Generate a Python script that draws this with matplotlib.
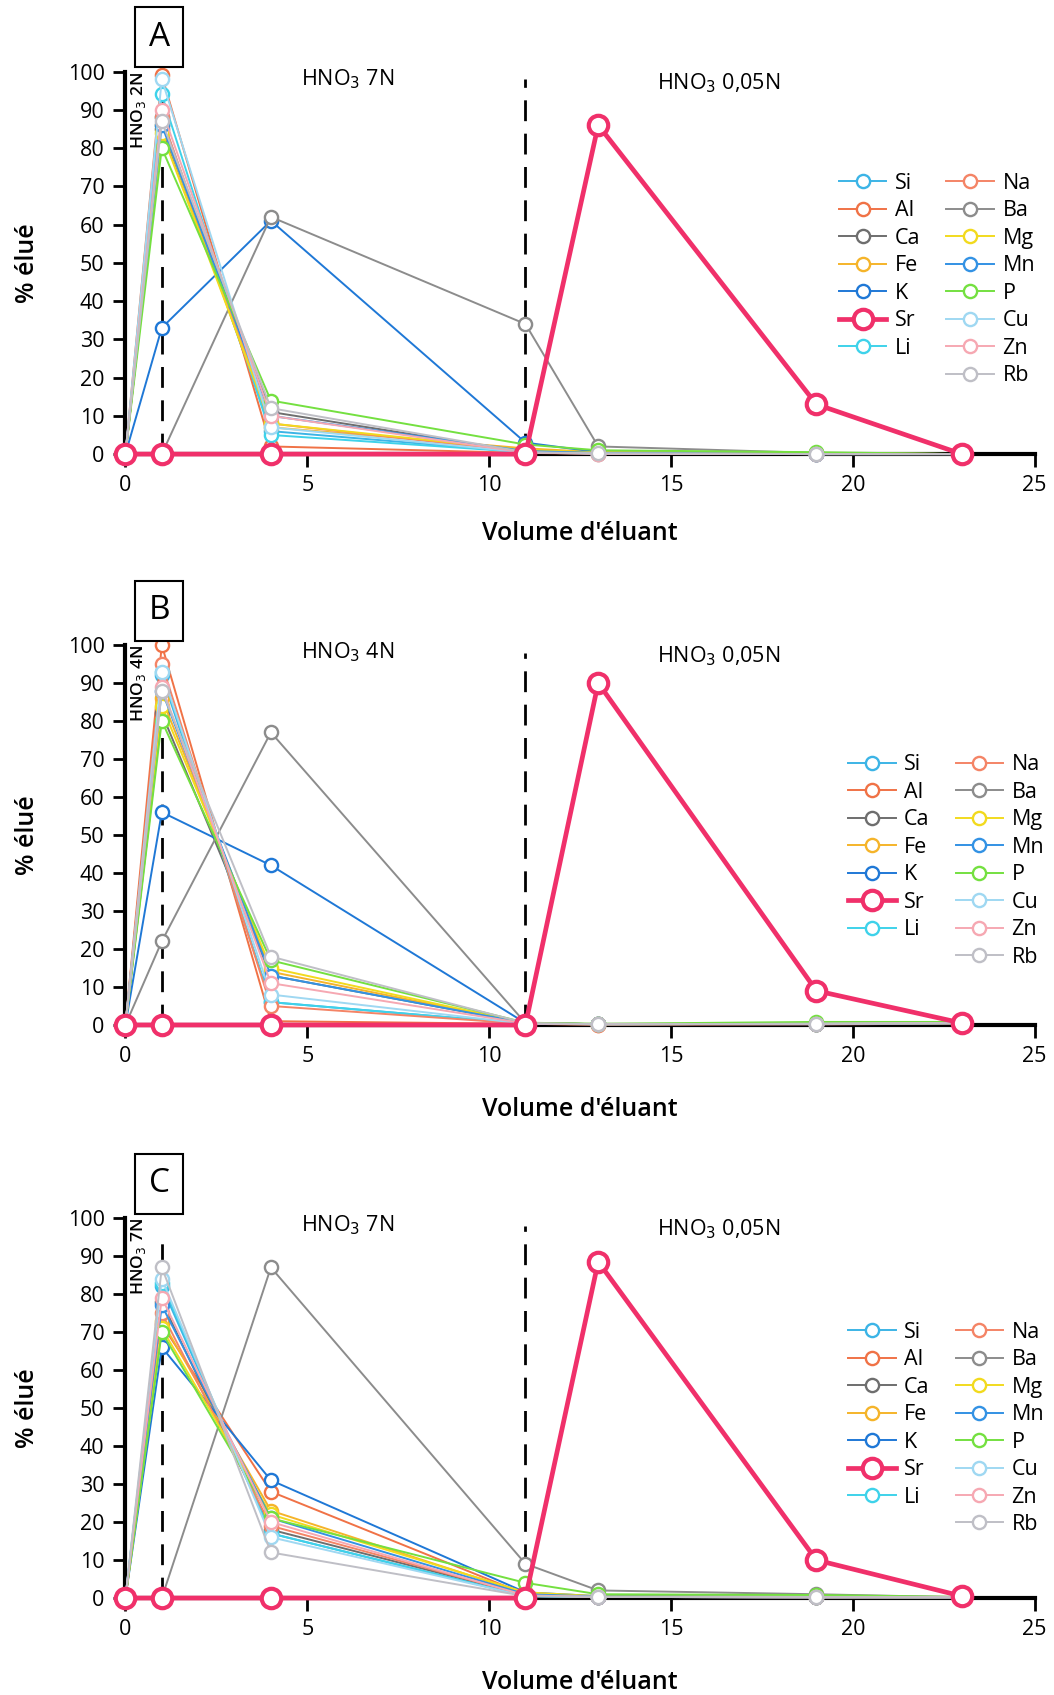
import matplotlib
matplotlib.use('Agg')
import matplotlib.pyplot as plt
from matplotlib.lines import Line2D

plt.rcParams['font.family'] = ['Open Sans', 'DejaVu Sans']

# volumes d'éluant
volume = [0, 1, 4, 11, 13, 19, 23]

elements = ['Si', 'Al', 'Ca', 'Fe', 'K', 'Sr', 'Li',
            'Na', 'Ba', 'Mg', 'Mn', 'P', 'Cu', 'Zn', 'Rb']
colors = {'Si': '#3cb4e6', 'Al': '#f07246', 'Ca': '#6e6e6e', 'Fe': '#f5b42a',
          'K': '#1f78d6', 'Sr': '#f0306a', 'Li': '#3ed2ea', 'Na': '#f48466',
          'Ba': '#8c8c8c', 'Mg': '#f2da1e', 'Mn': '#3392e4', 'P': '#74e040',
          'Cu': '#9fd8f2', 'Zn': '#f6a8b2', 'Rb': '#bfbfc6'}

# % élué, panneau A (HNO3 2N / 7N / 0,05N)
panel_A = {
    'Si': [0, 88, 6, 0.5, 0.2, 0, 0],
    'Al': [0, 99, 2, 0.3, 0.1, 0, 0],
    'Ca': [0, 85, 11, 0.5, 0.2, 0, 0],
    'Fe': [0, 86, 7, 1.5, 0.5, 0.2, 0],
    'K': [0, 33, 61, 3, 0.5, 0.2, 0],
    'Li': [0, 94, 5, 0.5, 0.2, 0, 0],
    'Na': [0, 88, 8, 0.5, 0.2, 0, 0],
    'Ba': [0, 0, 62, 34, 2, 0.3, 0],
    'Mg': [0, 84, 8, 1, 0.5, 0.3, 0],
    'Mn': [0, 86, 10, 0.8, 0.3, 0.1, 0],
    'P': [0, 80, 14, 2.5, 1, 0.5, 0],
    'Cu': [0, 98, 7, 0.4, 0.1, 0, 0],
    'Zn': [0, 90, 10, 0.4, 0.1, 0, 0],
    'Rb': [0, 87, 12, 0.5, 0.2, 0, 0],
    'Sr': [0, 0, 0, 0, 86, 13, 0],
}

# panneau B (HNO3 4N / 0,05N)
panel_B = {
    'Si': [0, 92, 6, 0.3, 0.2, 0.3, 0.5],
    'Al': [0, 100, 1, 0.3, 0.1, 0.2, 0.3],
    'Ca': [0, 82, 13, 0.5, 0.2, 0.3, 0.5],
    'Fe': [0, 86, 14, 0.5, 0.2, 0.3, 0.5],
    'K': [0, 56, 42, 0.5, 0.2, 0.2, 0.5],
    'Li': [0, 93, 6, 0.3, 0.2, 0.3, 0.5],
    'Na': [0, 95, 5, 0.3, 0.1, 0.2, 0.3],
    'Ba': [0, 22, 77, 0.5, 0.2, 0.2, 0.3],
    'Mg': [0, 84, 15, 0.5, 0.2, 0.3, 0.5],
    'Mn': [0, 88, 13, 0.5, 0.2, 0.3, 0.5],
    'P': [0, 80, 17, 0.6, 0.3, 0.8, 0.8],
    'Cu': [0, 93, 8, 0.3, 0.2, 0.3, 0.5],
    'Zn': [0, 89, 11, 0.4, 0.2, 0.3, 0.5],
    'Rb': [0, 88, 18, 0.5, 0.2, 0.3, 0.5],
    'Sr': [0, 0, 0, 0, 90, 9, 0.5],
}

# panneau C (HNO3 7N / 0,05N)
panel_C = {
    'Si': [0, 82, 17, 0.5, 0.3, 0.2, 0.2],
    'Al': [0, 72, 28, 1, 0.3, 0.2, 0.2],
    'Ca': [0, 78, 18, 0.8, 0.3, 0.2, 0.2],
    'Fe': [0, 73, 23, 1.2, 0.4, 0.3, 0.2],
    'K': [0, 66, 31, 1.5, 0.5, 0.3, 0.2],
    'Li': [0, 83, 17, 0.5, 0.3, 0.2, 0.2],
    'Na': [0, 75, 19, 0.8, 0.3, 0.2, 0.2],
    'Ba': [0, 0, 87, 9, 2, 1, 0.2],
    'Mg': [0, 71, 22, 1.5, 0.5, 0.3, 0.2],
    'Mn': [0, 77, 21, 1, 0.4, 0.3, 0.2],
    'P': [0, 70, 21, 4, 1, 0.8, 0.3],
    'Cu': [0, 84, 16, 0.5, 0.3, 0.2, 0.2],
    'Zn': [0, 79, 20, 0.7, 0.3, 0.2, 0.2],
    'Rb': [0, 87, 12, 0.5, 0.3, 0.2, 0.2],
    'Sr': [0, 0, 0, 0, 88.5, 10, 0.5],
}

panels = [
    ('A', panel_A, 'HNO$_3$ 2N', 'HNO$_3$ 7N', [0.119, 0.7321, 0.8626, 0.2257], (0.785, 0.735), 18),
    ('B', panel_B, 'HNO$_3$ 4N', 'HNO$_3$ 4N', [0.119, 0.3953, 0.8626, 0.2242], (0.795, 0.712), 22),
    ('C', panel_C, 'HNO$_3$ 7N', 'HNO$_3$ 7N', [0.119, 0.0572, 0.8626, 0.2242], (0.795, 0.727), 22),
]

fig = plt.figure(figsize=(10.54, 16.95), dpi=100)

for letter, data, first_acid, second_acid, rect, leg_pos, xpad in panels:
    ax = fig.add_axes(rect)

    # lignes de séparation des éluants
    ax.plot([1, 1], [0, 94], color='black', lw=2, ls=(0, (7.5, 4.5)), zorder=1, clip_on=False)
    ax.plot([11, 11], [0, 98], color='black', lw=2, ls=(0, (7.5, 4.5)), zorder=1, clip_on=False)

    handles = {}
    for el in elements:
        if el == 'Sr':
            continue
        h, = ax.plot(volume, data[el], color=colors[el], lw=1.4, marker='o',
                     ms=9.5, mfc='white', mew=1.7, clip_on=False, zorder=3)
        handles[el] = h
    h, = ax.plot(volume, data['Sr'], color=colors['Sr'], lw=3.4, marker='o',
                 ms=14, mfc='white', mew=3, clip_on=False, zorder=5)
    handles['Sr'] = h

    ax.set_xlim(0, 25)
    ax.set_ylim(0, 100)
    ax.set_xticks([0, 5, 10, 15, 20, 25])
    ax.set_yticks(range(0, 101, 10))
    ax.spines['top'].set_visible(False)
    ax.spines['right'].set_visible(False)
    ax.spines['left'].set_linewidth(3)
    ax.spines['bottom'].set_linewidth(3)
    ax.tick_params(direction='out', length=9, width=2, labelsize=15.5, pad=6)
    ax.set_xlabel("Volume d'éluant", fontsize=18, fontweight='semibold', labelpad=xpad)
    ax.set_ylabel('% élué', fontsize=18, fontweight='semibold', labelpad=20)

    # lettre du panneau
    ax.text(0.93, 109, letter, fontsize=24, ha='center', va='center', clip_on=False,
            bbox=dict(boxstyle='square,pad=0.4', fc='white', ec='black', lw=1.5))

    ax.text(0.36, 100, first_acid, rotation=90, fontsize=12.5, ha='center', va='top',
            fontweight='semibold')
    ax.text(6.1, 98, second_acid, fontsize=15.5, ha='center', va='center')
    ax.text(16.3, 97, 'HNO$_3$ 0,05N', fontsize=15.5, ha='center', va='center')

    blank = Line2D([], [], color='none', label=' ')
    order_left = ['Si', 'Al', 'Ca', 'Fe', 'K', 'Sr', 'Li']
    order_right = ['Na', 'Ba', 'Mg', 'Mn', 'P', 'Cu', 'Zn', 'Rb']
    hl = [handles[e] for e in order_left] + [blank] + [handles[e] for e in order_right]
    ll = order_left + [' '] + order_right
    ax.legend(hl, ll, ncol=2, loc='upper left', bbox_to_anchor=leg_pos, frameon=False,
              fontsize=15.5, handlelength=2.2, handletextpad=0.4, columnspacing=1.2,
              labelspacing=0.3, borderpad=0, borderaxespad=0)

fig.savefig('out.png', dpi=100)
